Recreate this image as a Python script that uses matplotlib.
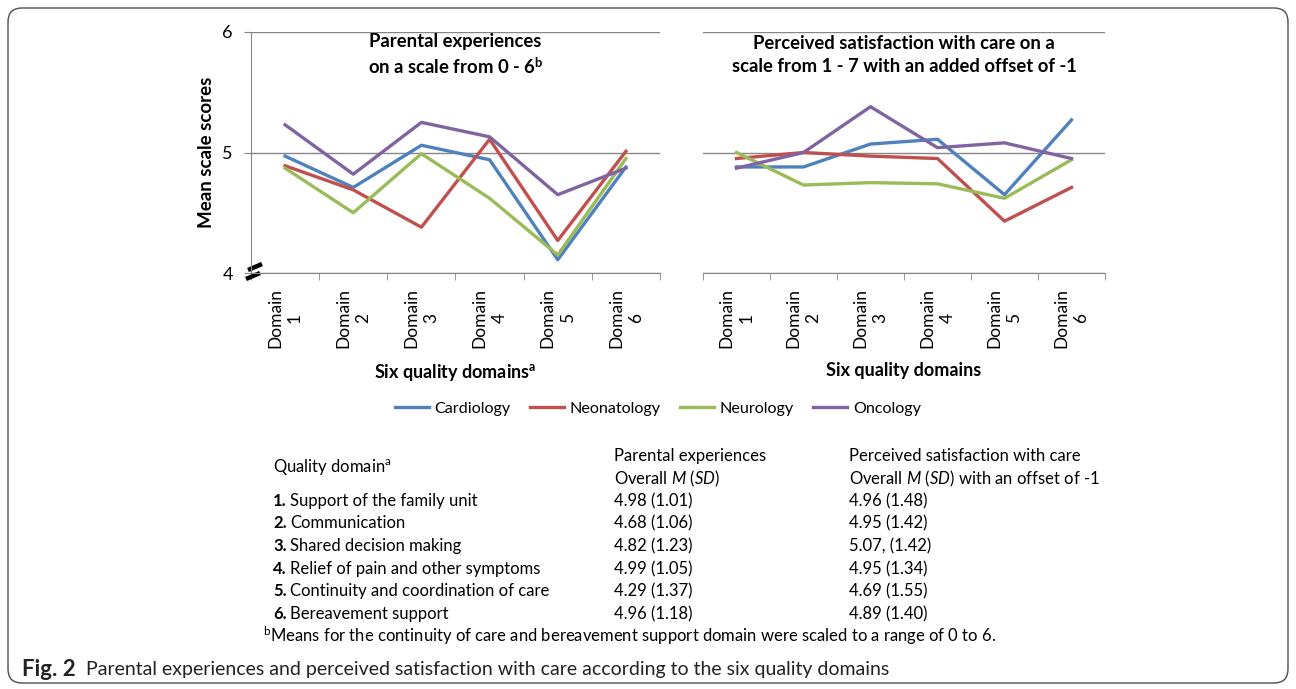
import numpy as np
import matplotlib
matplotlib.use("Agg")
import matplotlib.pyplot as plt
from matplotlib.patches import FancyBboxPatch
from matplotlib.lines import Line2D

plt.rcParams['font.family'] = ['Lato', 'DejaVu Sans']
plt.rcParams['mathtext.fontset'] = 'custom'
plt.rcParams['mathtext.rm'] = 'Lato'
plt.rcParams['mathtext.it'] = 'Lato:italic'
plt.rcParams['mathtext.bf'] = 'Lato:bold'

# data
domains = ["Domain\n1", "Domain\n2", "Domain\n3", "Domain\n4", "Domain\n5", "Domain\n6"]
units = ["Cardiology", "Neonatology", "Neurology", "Oncology"]
colors = ["#4F81BD", "#C0504D", "#9BBB59", "#8064A2"]

# parental experiences, scale 0-6
exp_cardiology = [4.97, 4.71, 5.06, 4.94, 4.11, 4.88]
exp_neonatology = [4.89, 4.69, 4.38, 5.11, 4.27, 5.01]
exp_neurology = [4.87, 4.50, 4.99, 4.62, 4.15, 4.95]
exp_oncology = [5.23, 4.82, 5.25, 5.13, 4.65, 4.87]

# perceived satisfaction, scale 1-7 with offset -1
sat_cardiology = [4.88, 4.88, 5.07, 5.11, 4.65, 5.27]
sat_neonatology = [4.95, 5.00, 4.97, 4.95, 4.43, 4.71]
sat_neurology = [5.00, 4.73, 4.75, 4.74, 4.62, 4.94]
sat_oncology = [4.87, 5.00, 5.38, 5.04, 5.08, 4.95]

exp_series = [exp_cardiology, exp_neonatology, exp_neurology, exp_oncology]
sat_series = [sat_cardiology, sat_neonatology, sat_neurology, sat_oncology]

# table
row_nums = ["1.", "2.", "3.", "4.", "5.", "6."]
row_names = ["Support of the family unit", "Communication", "Shared decision making",
             "Relief of pain and other symptoms", "Continuity and coordination of care",
             "Bereavement support"]
exp_msd = ["4.98 (1.01)", "4.68 (1.06)", "4.82 (1.23)", "4.99 (1.05)", "4.29 (1.37)", "4.96 (1.18)"]
sat_msd = ["4.96 (1.48)", "4.95 (1.42)", "5.07, (1.42)", "4.95 (1.34)", "4.69 (1.55)", "4.89 (1.40)"]

W, H = 1296, 689
fig = plt.figure(figsize=(W / 100, H / 100), dpi=100)

# frame round the whole figure
frame = FancyBboxPatch((0.08, 0.06), 12.80, 6.75, boxstyle="round,pad=0,rounding_size=0.14",
                       transform=fig.dpi_scale_trans, fill=False, ec="#4d4d4d", lw=1.0)
fig.patches.append(frame)

grey = "#868686"
x = np.arange(len(domains))


def setup(ax, title, xlabel, left):
    for s in ["top", "right"]:
        ax.spines[s].set_visible(False)
    ax.spines["bottom"].set_color(grey)
    ax.spines["left"].set_color(grey)
    ax.spines["left"].set_visible(left)
    ax.set_xlim(-0.5, 5.5)
    ax.set_ylim(4, 6)
    ax.set_yticks([4, 5, 6])
    ax.yaxis.grid(True, color=grey, lw=1.0)
    ax.set_axisbelow(True)
    ax.set_xticks(x)
    ax.set_xticklabels(domains, rotation=90, fontsize=12.5, va="top", ha="center",
                       multialignment="center", linespacing=1.3)
    ax.set_xticks(np.arange(-0.5, 6, 1), minor=True)
    ax.tick_params(axis="x", which="major", length=0, pad=11)
    ax.tick_params(axis="x", which="minor", length=5, color=grey)
    if left:
        ax.tick_params(axis="y", length=5, color=grey, labelsize=13, pad=8)
    else:
        ax.tick_params(axis="y", length=0, labelleft=False)
    ax.set_xlabel(xlabel, fontsize=13, fontweight="bold", labelpad=10)
    ax.text(0.5, 0.905, title, transform=ax.transAxes, ha="center", va="center",
            fontsize=13.3, fontweight="bold", linespacing=1.4)


ax1 = fig.add_axes([251 / W, 1 - 273 / H, 409 / W, 241 / H])
ax2 = fig.add_axes([703 / W, 1 - 273 / H, 402 / W, 241 / H])

for vals, c in zip(exp_series, colors):
    ax1.plot(x, vals, color=c, lw=2.4, solid_joinstyle="round")
for vals, c in zip(sat_series, colors):
    ax2.plot(x, vals, color=c, lw=2.4, solid_joinstyle="round")

setup(ax1, "Parental experiences\non a scale from 0 - 6$^\\mathbf{b}$",
      "Six quality domains$^\\mathbf{a}$", True)
setup(ax2, "Perceived satisfaction with care on a\nscale from 1 - 7 with an added offset of -1",
      "Six quality domains", False)
ax1.set_ylabel("Mean scale scores", fontsize=13.5, fontweight="bold", labelpad=5)

# axis break mark
px = ax1.transAxes.inverted()
for (x0, y0, x1, y1) in [(248, 270, 262, 264), (246, 279, 260, 273)]:
    a = px.transform(fig.transFigure.transform((x0 / W, 1 - y0 / H)))
    b = px.transform(fig.transFigure.transform((x1 / W, 1 - y1 / H)))
    ax1.plot([a[0], b[0]], [a[1], b[1]], transform=ax1.transAxes, color="black",
             lw=3.2, clip_on=False, solid_capstyle="butt")

# legend
handles = [Line2D([0], [0], color=c, lw=2.4) for c in colors]
fig.legend(handles, units, ncol=4, loc="center", bbox_to_anchor=(658 / W, 1 - 409 / H),
           frameon=False, fontsize=11.6, handlelength=2.1, handletextpad=0.35,
           columnspacing=1.2)

# table under the charts
tfs = 12
c1, c2, c3 = 273 / W, 614 / W, 849 / W
fig.text(c1, 1 - 467 / H, "Quality domain$^\\mathrm{a}$", fontsize=tfs, va="center")
fig.text(c2, 1 - 456 / H, "Parental experiences", fontsize=tfs, va="center")
fig.text(c2, 1 - 479 / H, "Overall $M$ ($SD$)", fontsize=tfs, va="center")
fig.text(c3, 1 - 456 / H, "Perceived satisfaction with care", fontsize=tfs, va="center")
fig.text(c3, 1 - 479 / H, "Overall $M$ ($SD$) with an offset of -1", fontsize=tfs, va="center")
row_y = [501, 523, 546, 569, 591, 614]
for ry, num, name, e, s in zip(row_y, row_nums, row_names, exp_msd, sat_msd):
    fig.text(c1, 1 - ry / H, num, fontsize=tfs, fontweight="bold", va="center")
    fig.text(c1 + 17 / W, 1 - ry / H, name, fontsize=tfs, va="center")
    fig.text(c2, 1 - ry / H, e, fontsize=tfs, va="center")
    fig.text(c3, 1 - ry / H, s, fontsize=tfs, va="center")
fig.text(263 / W, 1 - 636 / H,
         "$^\\mathrm{b}$Means for the continuity of care and bereavement support domain were scaled to a range of 0 to 6.",
         fontsize=tfs, va="center")

# caption
fig.text(22 / W, 1 - 670 / H, "Fig. 2", fontsize=16, fontweight="bold", va="center", color="#222222")
fig.text(86 / W, 1 - 670 / H,
         "Parental experiences and perceived satisfaction with care according to the six quality domains",
         fontsize=14, va="center", color="#222222")

fig.savefig("out.png", dpi=100)
